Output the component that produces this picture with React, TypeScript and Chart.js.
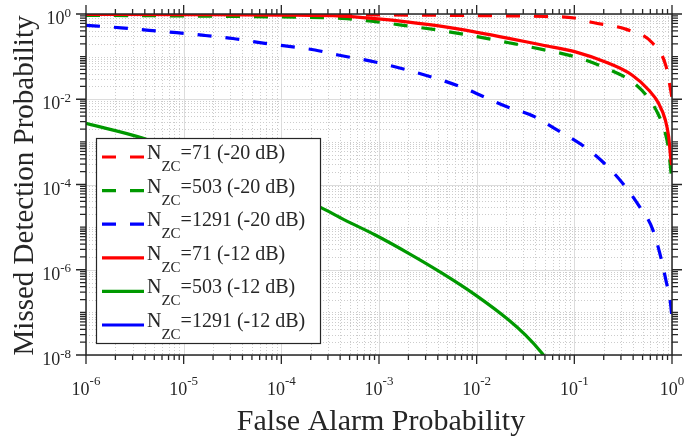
import React, { useEffect, useRef } from "react";
import { Chart, registerables } from "chart.js";

Chart.register(...registerables);

const SERIF = '"Liberation Serif", "Times New Roman", Times, serif';
const AXIS_COLOR = "#262626";

const X_TITLE = "False Alarm Probability";
const Y_TITLE = "Missed Detection Probability";

// Axis ticks (log decades)
const xTickValues = [1e-6, 1e-5, 1e-4, 1e-3, 1e-2, 1e-1, 1];
const xTickExps = ["-6", "-5", "-4", "-3", "-2", "-1", "0"];
const yTickValues = [1e-8, 1e-6, 1e-4, 1e-2, 1];
const yTickExps = ["-8", "-6", "-4", "-2", "0"];

// Legend / series labels (N_ZC = ...)
const seriesLabels = [
  "=71 (-20 dB)",
  "=503 (-20 dB)",
  "=1291 (-20 dB)",
  "=71 (-12 dB)",
  "=503 (-12 dB)",
  "=1291 (-12 dB)",
];
const seriesColors = ["#ff0000", "#009900", "#0000ff", "#ff0000", "#009900", "#0000ff"];
const seriesDashed = [true, true, true, false, false, false];

// N_ZC = 71, -20 dB
const pfa71a = [1e-6, 1e-5, 1e-4, 1e-3, 1e-2, 0.05, 0.1, 0.155, 0.347, 0.624, 0.868, 0.977, 0.999];
const pmd71a = [0.985, 0.98, 0.97, 0.95, 0.92, 0.874, 0.806, 0.63, 0.43, 0.214, 0.06, 0.0148, 0.011];

// N_ZC = 503, -20 dB
const pfa503a = [1e-6, 1e-5, 1e-4, 4.18e-4, 9.16e-4, 2.01e-3, 4.42e-3, 1.01e-2, 2.13e-2, 4.67e-2, 0.1007, 0.225, 0.389, 0.577, 0.729, 0.855, 0.925, 0.984, 1];
const pmd503a = [0.933, 0.902, 0.851, 0.791, 0.661, 0.522, 0.406, 0.294, 0.212, 0.148, 0.0998, 0.0504, 0.0259, 0.0105, 0.00427, 0.00158, 6.46e-4, 1.67e-4, 1.41e-4];

// N_ZC = 1291, -20 dB
const pfa1291a = [1e-6, 2.29e-6, 4.42e-6, 8.51e-6, 1.66e-5, 3.2e-5, 6.81e-5, 2.21e-4, 3.8e-4, 9.12e-4, 3.49e-3, 7.08e-3, 2.04e-2, 3.78e-2, 6.65e-2, 0.12, 0.201, 0.323, 0.465, 0.638, 0.869, 0.989, 1];
const pmd1291a = [0.543, 0.474, 0.414, 0.365, 0.313, 0.266, 0.204, 0.143, 0.109, 0.0748, 0.0331, 0.019, 6.68e-3, 4.05e-3, 1.91e-3, 8.45e-4, 3.19e-4, 9.77e-5, 3.02e-5, 8.51e-6, 5.5e-7, 9.55e-8, 6.3e-8];

// N_ZC = 71, -12 dB
const pfa71b = [1e-6, 1e-5, 1e-4, 4.18e-4, 9.16e-4, 2.01e-3, 4.42e-3, 1.01e-2, 2.13e-2, 4.67e-2, 0.1007, 0.225, 0.389, 0.577, 0.729, 0.855, 0.925, 0.984, 1];
const pmd71b = [0.977, 0.966, 0.944, 0.891, 0.776, 0.646, 0.513, 0.372, 0.269, 0.187, 0.131, 0.0697, 0.0371, 0.0165, 0.00804, 0.00326, 0.00132, 3.14e-4, 2.9e-4];

// N_ZC = 503, -12 dB
const pfa503b = [1e-6, 3.86e-6, 1e-5, 3.16e-5, 1e-4, 2.49e-4, 4.18e-4, 9.16e-4, 2.01e-3, 4.42e-3, 9.68e-3, 2.13e-2, 3.15e-2, 4.67e-2, 5.0e-2];
const pmd503b = [2.72e-3, 1.21e-3, 5.25e-4, 1.78e-4, 6.76e-5, 2.95e-5, 1.58e-5, 6.53e-6, 2.43e-6, 8.32e-7, 2.57e-7, 6.61e-8, 2.95e-8, 1.1e-8, 8.9e-9];

// N_ZC = 1291, -12 dB: entirely below the plotted range (no visible points)
const pfa1291b: number[] = [];
const pmd1291b: number[] = [];

const seriesX = [pfa71a, pfa503a, pfa1291a, pfa71b, pfa503b, pfa1291b];
const seriesY = [pmd71a, pmd503a, pmd1291a, pmd71b, pmd503b, pmd1291b];

const LINE_W = 3.2;
const DASH = [14, 14];

function drawTickLabel(ctx: CanvasRenderingContext2D, exp: string, x: number, baseY: number, expY: number, align: "center" | "right") {
  ctx.font = `18px ${SERIF}`;
  const w1 = ctx.measureText("10").width;
  ctx.font = `13px ${SERIF}`;
  const w2 = ctx.measureText(exp).width;
  const total = w1 + w2;
  const start = align === "center" ? x - total / 2 : x - total;
  ctx.textAlign = "left";
  ctx.textBaseline = "alphabetic";
  ctx.font = `18px ${SERIF}`;
  ctx.fillText("10", start, baseY);
  ctx.font = `13px ${SERIF}`;
  ctx.fillText(exp, start + w1, expY);
}

const matlabPlugin = {
  id: "matlabAxes",
  beforeDatasetsDraw(chart: any) {
    const { ctx, chartArea: a, scales } = chart;
    const xs = scales.x;
    const ys = scales.y;
    ctx.save();
    ctx.lineWidth = 1;
    // minor grid (dotted)
    ctx.setLineDash([1, 2]);
    ctx.strokeStyle = "#cccccc";
    ctx.beginPath();
    for (let d = -6; d < 0; d++) {
      for (let m = 2; m <= 9; m++) {
        const px = Math.round(xs.getPixelForValue(m * Math.pow(10, d))) + 0.5;
        ctx.moveTo(px, a.top);
        ctx.lineTo(px, a.bottom);
      }
    }
    for (let d = -8; d < 0; d++) {
      for (let m = 1; m <= 9; m++) {
        if (m === 1 && d % 2 === 0) continue;
        const py = Math.round(ys.getPixelForValue(m * Math.pow(10, d))) + 0.5;
        ctx.moveTo(a.left, py);
        ctx.lineTo(a.right, py);
      }
    }
    ctx.stroke();
    // major grid (solid)
    ctx.setLineDash([]);
    ctx.strokeStyle = "#dcdcdc";
    ctx.beginPath();
    xTickValues.forEach((v) => {
      const px = Math.round(xs.getPixelForValue(v)) + 0.5;
      ctx.moveTo(px, a.top);
      ctx.lineTo(px, a.bottom);
    });
    yTickValues.forEach((v) => {
      const py = Math.round(ys.getPixelForValue(v)) + 0.5;
      ctx.moveTo(a.left, py);
      ctx.lineTo(a.right, py);
    });
    ctx.stroke();
    ctx.restore();
  },
  afterDatasetsDraw(chart: any) {
    const { ctx, chartArea: a, scales } = chart;
    const xs = scales.x;
    const ys = scales.y;
    ctx.save();

    // Legend
    const lx = 96.5, ly = 138.5, lw = 224, lh = 205;
    ctx.fillStyle = "#ffffff";
    ctx.fillRect(lx, ly, lw, lh);
    ctx.strokeStyle = AXIS_COLOR;
    ctx.lineWidth = 1.2;
    ctx.strokeRect(lx, ly, lw, lh);
    seriesLabels.forEach((lab, i) => {
      const ry = 157 + i * 33.6;
      ctx.strokeStyle = seriesColors[i];
      ctx.lineWidth = LINE_W;
      ctx.setLineDash(seriesDashed[i] ? DASH : []);
      ctx.beginPath();
      ctx.moveTo(102, ry);
      ctx.lineTo(144, ry);
      ctx.stroke();
      ctx.setLineDash([]);
      ctx.fillStyle = AXIS_COLOR;
      ctx.textAlign = "left";
      ctx.textBaseline = "alphabetic";
      let tx = 147;
      ctx.font = `20px ${SERIF}`;
      ctx.fillText("N", tx, ry + 2);
      tx += ctx.measureText("N").width;
      ctx.font = `15px ${SERIF}`;
      ctx.fillText("ZC", tx, ry + 14);
      tx += ctx.measureText("ZC").width;
      ctx.font = `20px ${SERIF}`;
      ctx.fillText(lab, tx, ry + 2);
    });

    // Axes box
    ctx.strokeStyle = AXIS_COLOR;
    ctx.lineWidth = 1.5;
    ctx.setLineDash([]);
    ctx.strokeRect(a.left, a.top, a.right - a.left, a.bottom - a.top);

    // Ticks (outward)
    ctx.lineWidth = 1.3;
    ctx.beginPath();
    for (let d = -6; d <= 0; d++) {
      const px = xs.getPixelForValue(Math.pow(10, d));
      ctx.moveTo(px, a.bottom);
      ctx.lineTo(px, a.bottom + 9);
      ctx.moveTo(px, a.top);
      ctx.lineTo(px, a.top - 9);
      if (d < 0) {
        for (let m = 2; m <= 9; m++) {
          const qx = xs.getPixelForValue(m * Math.pow(10, d));
          ctx.moveTo(qx, a.bottom);
          ctx.lineTo(qx, a.bottom + 5);
          ctx.moveTo(qx, a.top);
          ctx.lineTo(qx, a.top - 5);
        }
      }
    }
    for (let d = -8; d <= 0; d++) {
      const py = ys.getPixelForValue(Math.pow(10, d));
      const len = d % 2 === 0 ? 10 : 6;
      ctx.moveTo(a.left, py);
      ctx.lineTo(a.left - len, py);
      ctx.moveTo(a.right, py);
      ctx.lineTo(a.right + len, py);
      if (d < 0) {
        for (let m = 2; m <= 9; m++) {
          const qy = ys.getPixelForValue(m * Math.pow(10, d));
          ctx.moveTo(a.left, qy);
          ctx.lineTo(a.left - 6, qy);
          ctx.moveTo(a.right, qy);
          ctx.lineTo(a.right + 6, qy);
        }
      }
    }
    ctx.stroke();

    // Tick labels
    ctx.fillStyle = AXIS_COLOR;
    xTickValues.forEach((v, i) => {
      const px = xs.getPixelForValue(v);
      drawTickLabel(ctx, xTickExps[i], px, a.bottom + 40, a.bottom + 30, "center");
    });
    yTickValues.forEach((v, i) => {
      const py = ys.getPixelForValue(v);
      drawTickLabel(ctx, yTickExps[i], 71, py + 10, py + 2.5, "right");
    });

    // Axis titles
    ctx.textBaseline = "alphabetic";
    ctx.textAlign = "center";
    ctx.font = `30px ${SERIF}`;
    ctx.fillText(X_TITLE, (a.left + a.right) / 2 + 2, 430);
    ctx.save();
    ctx.translate(33, (a.top + a.bottom) / 2 + 1);
    ctx.rotate(-Math.PI / 2);
    ctx.font = `29px ${SERIF}`;
    ctx.fillText(Y_TITLE, 0, 0);
    ctx.restore();

    ctx.restore();
  },
};

export default function App() {
  const canvasRef = useRef<HTMLCanvasElement | null>(null);

  useEffect(() => {
    if (!canvasRef.current) return;
    const datasets = seriesLabels.map((lab, i) => ({
      label: "N_ZC" + lab,
      data: seriesX[i].map((x, k) => ({ x, y: seriesY[i][k] })),
      borderColor: seriesColors[i],
      backgroundColor: seriesColors[i],
      borderWidth: LINE_W,
      borderDash: seriesDashed[i] ? DASH : [],
      borderCapStyle: "butt" as const,
      pointRadius: 0,
      fill: false,
      cubicInterpolationMode: "monotone" as const,
      order: seriesLabels.length - i,
    }));
    const chart = new Chart(canvasRef.current, {
      type: "line",
      data: { datasets },
      options: {
        animation: false,
        responsive: false,
        events: [],
        layout: { padding: { left: 86, right: 12, top: 14, bottom: 82 } },
        plugins: { legend: { display: false }, tooltip: { enabled: false } },
        scales: {
          x: { type: "logarithmic", min: 1e-6, max: 1, display: false },
          y: { type: "logarithmic", min: 1e-8, max: 1, display: false },
        },
      },
      plugins: [matlabPlugin],
    });
    return () => chart.destroy();
  }, []);

  return (
    <div style={{ position: "fixed", left: 0, top: 0, width: 684, height: 437, background: "#ffffff" }}>
      <canvas ref={canvasRef} width={684} height={437} style={{ display: "block" }} />
    </div>
  );
}
